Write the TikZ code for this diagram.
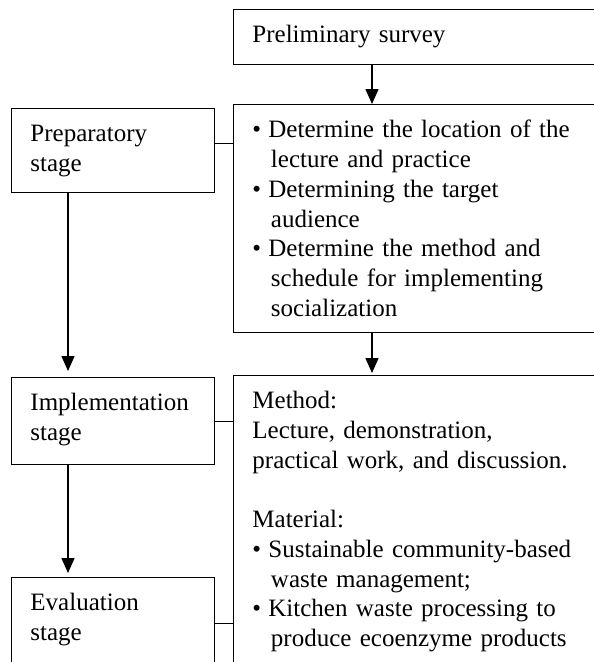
\documentclass[tikz,border=0pt]{standalone}
\usepackage{fontspec}
\setmainfont{Liberation Serif}
\usetikzlibrary{arrows.meta}
\newcommand{\bul}{\makebox[16pt][l]{\textbullet}}
\newcommand{\ind}{\hspace*{18.5pt}}

\begin{document}
\begin{tikzpicture}[
  x=1pt, y=-1pt,
  every node/.style={font=\fontsize{25}{29.7}\selectfont},
  stage/.style={
    draw, line width=0.9pt, anchor=north west, align=left,
    text width=165pt, inner xsep=19pt, inner ysep=16.5pt, text height=17pt
  },
  detail/.style={stage, text width=360pt},
  connector/.style={
    -{Triangle[length=15pt, width=13pt]}, line width=1.6pt
  },
  link/.style={line width=0.9pt}
]
\useasboundingbox (0,0) rectangle (594,662);
\clip (0,0) rectangle (594,662);

% Right column
\node[detail, text depth=5pt] (survey) at (233,9) {Preliminary survey};
\node[detail, text depth=178pt] (plan) at (233,104) {%
  \bul Determine the location of the\\
  \ind lecture and practice\\
  \bul Determining the target\\
  \ind audience\\
  \bul Determine the method and\\
  \ind schedule for implementing\\
  \ind socialization};
\node[detail, text depth=300pt] (content) at (233,375) {%
  Method:\\
  Lecture, demonstration,\\
  practical work, and discussion.\\[29.7pt]
  Material:\\
  \bul Sustainable community-based\\
  \ind waste management;\\
  \bul Kitchen waste processing to\\
  \ind produce ecoenzyme products};

% Left column
\node[stage, text depth=34pt] (prep) at (11,108) {Preparatory\\stage};
\node[stage, text depth=37pt] (impl) at (11,377) {Implementation\\stage};
\node[stage, text depth=120pt] (eval) at (11,577) {Evaluation\\stage};

% Arrows
\draw[connector] ([xshift=139pt]survey.south west) -- ([xshift=139pt]plan.north west);
\draw[connector, shorten >=2pt] ([xshift=139pt]plan.south west) -- ([xshift=139pt]content.north west);
\draw[connector, shorten >=6pt] ([xshift=57pt]prep.south west) -- ([xshift=57pt]impl.north west);
\draw[connector, shorten >=4pt] ([xshift=57pt]impl.south west) -- ([xshift=57pt]eval.north west);

% Links between stages and details
\draw[link] ([yshift=7pt]prep.east) -- ([yshift=7pt]prep.east -| plan.west);
\draw[link] (impl.east) -- (impl.east -| content.west);
\draw[link] ([yshift=-46pt]eval.north east) -- ([yshift=-46pt]eval.north east -| content.west);

\end{tikzpicture}
\end{document}
